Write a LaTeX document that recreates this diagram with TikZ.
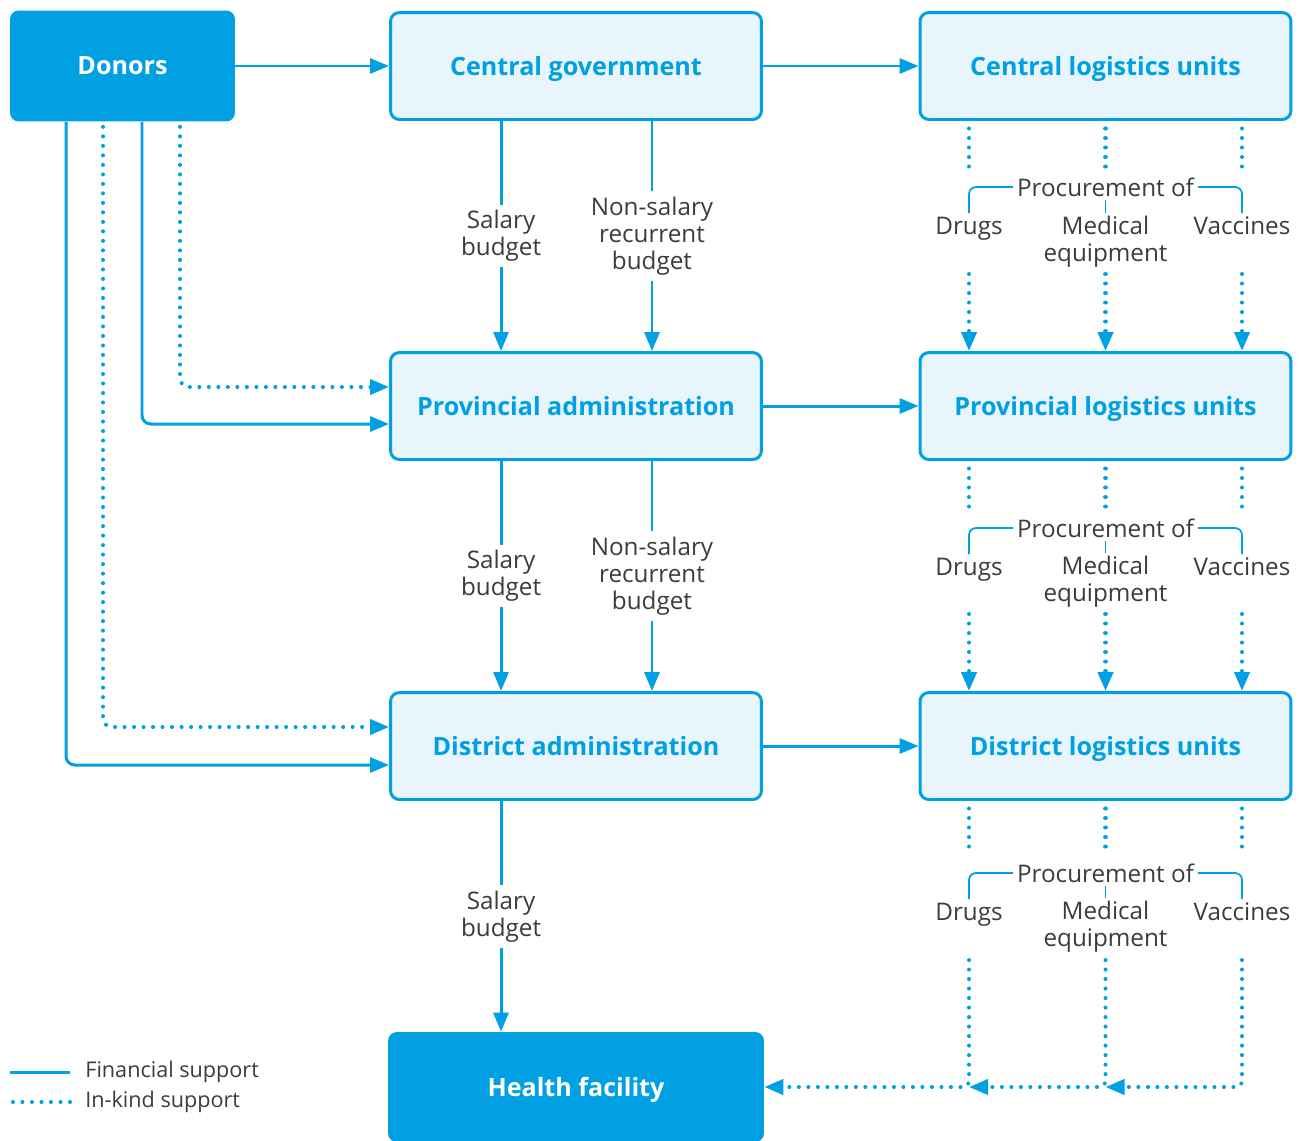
\documentclass[tikz,border=0pt]{standalone}
\usepackage{fontspec}
\setmainfont{Open Sans}
\usepackage{tikz}
\usetikzlibrary{arrows.meta,positioning,calc}
\definecolor{hsBlue}{HTML}{00A0E3}
\definecolor{hsLight}{HTML}{E8F5FD}
\definecolor{hsInk}{HTML}{3C3C3C}
\tikzset{
  % Light administration / logistics box
  lbox/.style={rectangle,rounded corners=5pt,
    minimum width=7.42cm,minimum height=2.14cm,
    align=center,draw=hsBlue,line width=1.7pt,fill=hsLight,text depth=0pt,
    font=\fontsize{14.3pt}{16pt}\selectfont\bfseries,text=hsBlue},
  % Solid blue box (donors, health facility)
  sbox/.style={rectangle,rounded corners=5pt,
    align=center,fill=hsBlue,text depth=0pt,
    font=\fontsize{14.3pt}{16pt}\selectfont\bfseries,text=white},
  % Lines
  fin/.style={line width=1.7pt,draw=hsBlue},
  kind/.style={line width=2.3pt,draw=hsBlue,line cap=round,
    dash pattern=on 0.01pt off 5.4pt},
  tip/.style={-{Triangle[length=0.38cm,width=0.3cm]}},
  brk/.style={line width=1pt,draw=hsBlue,rounded corners=4pt},
  % Texts
  lbl/.style={font=\fontsize{13.8pt}{15.3pt}\selectfont,text=hsInk,align=center},
  plbl/.style={lbl,inner sep=2pt},
  leg/.style={font=\fontsize{12.3pt}{14pt}\selectfont,text=hsInk,inner sep=0pt,anchor=west},
}
\begin{document}
\begin{tikzpicture}[x=0.02cm,y=-0.02cm]
  \useasboundingbox (0,0) rectangle (1304,1140);

  % Boxes
  \node[sbox,minimum width=4.5cm,minimum height=2.22cm] (donors) at (122.5,66) {Donors};
  \node[lbox] (cg) at (576,66) {Central government};
  \node[lbox] (cl) at (1105.5,66) {Central logistics units};
  \node[lbox] (pa) at (576,406) {Provincial administration};
  \node[lbox] (pl) at (1105.5,406) {Provincial logistics units};
  \node[lbox] (da) at (576,746) {District administration};
  \node[lbox] (dl) at (1105.5,746) {District logistics units};
  \node[sbox,minimum width=7.52cm,minimum height=2.2cm] (hf) at (576,1087) {Health facility};

  % Horizontal flows
  \draw[fin,tip] (donors.east) -- (cg.west);
  \draw[fin,tip] (cg.east) -- (cl.west);
  \draw[fin,tip] (pa.east) -- (pl.west);
  \draw[fin,tip] (da.east) -- (dl.west);

  % Budgets down the administration
  \draw[fin,tip] ([xshift=-1.5cm]cg.south) -- ([xshift=-1.5cm]pa.north)
    node[lbl,midway,fill=white] {Salary\\budget};
  \draw[fin,tip] ([xshift=1.52cm]cg.south) -- ([xshift=1.52cm]pa.north)
    node[lbl,midway,fill=white] {Non-salary\\recurrent\\budget};
  \draw[fin,tip] ([xshift=-1.5cm]pa.south) -- ([xshift=-1.5cm]da.north)
    node[lbl,midway,fill=white] {Salary\\budget};
  \draw[fin,tip] ([xshift=1.52cm]pa.south) -- ([xshift=1.52cm]da.north)
    node[lbl,midway,fill=white] {Non-salary\\recurrent\\budget};
  \draw[fin,tip] ([xshift=-1.5cm]da.south) -- ([xshift=-1.5cm]hf.north)
    node[lbl,midway,fill=white] {Salary\\budget};

  % Donor support
  \draw[fin,tip,rounded corners=5pt] ([xshift=-1.13cm]donors.south) |- ([yshift=-0.38cm]da.west);
  \draw[kind,tip,rounded corners=5pt] ([xshift=-0.39cm,yshift=-0.1cm]donors.south) |- ([yshift=0.38cm]da.west);
  \draw[fin,tip,rounded corners=5pt] ([xshift=0.39cm]donors.south) |- ([yshift=-0.36cm]pa.west);
  \draw[kind,tip,rounded corners=5pt] ([xshift=1.15cm,yshift=-0.1cm]donors.south) |- ([yshift=0.38cm]pa.west);

  % Procurement, central level
  \node[plbl] (proc1) at (1105.5,187) {Procurement of};
  \node[plbl] (drug1) at (969,229) {Drugs};
  \node[plbl] (med1) at (1105.5,242) {Medical\\equipment};
  \node[plbl] (vac1) at (1242,226) {Vaccines};
  \coordinate (low1) at (1105.5,274);
  \draw[brk] (vac1.north) |- (proc1.east);
  \draw[brk] (drug1.north |- vac1.north) |- (proc1.west);
  \draw[brk] (proc1.south) -- (med1.north);
  \foreach \n in {drug1,med1,vac1} {
    \draw[kind] (\n |- cl.south) ++(0,-0.15cm) -- ++(0,-0.85cm);
    \draw[kind,tip] (\n |- low1) -- (\n |- pl.north);
  }

  % Procurement, provincial level
  \node[plbl] (proc2) at (1105.5,528) {Procurement of};
  \node[plbl] (drug2) at (969,570) {Drugs};
  \node[plbl] (med2) at (1105.5,582) {Medical\\equipment};
  \node[plbl] (vac2) at (1242,567) {Vaccines};
  \coordinate (low2) at (1105.5,614);
  \draw[brk] (vac2.north) |- (proc2.east);
  \draw[brk] (drug2.north |- vac2.north) |- (proc2.west);
  \draw[brk] (proc2.south) -- (med2.north);
  \foreach \n in {drug2,med2,vac2} {
    \draw[kind] (\n |- pl.south) ++(0,-0.15cm) -- ++(0,-0.85cm);
    \draw[kind,tip] (\n |- low2) -- (\n |- dl.north);
  }

  % Procurement, district level
  \node[plbl] (proc3) at (1105.5,873) {Procurement of};
  \node[plbl] (drug3) at (969,915) {Drugs};
  \node[plbl] (med3) at (1105.5,927) {Medical\\equipment};
  \node[plbl] (vac3) at (1242,912) {Vaccines};
  \coordinate (low3) at (1105.5,960);
  \draw[brk] (vac3.north) |- (proc3.east);
  \draw[brk] (drug3.north |- vac3.north) |- (proc3.west);
  \draw[brk] (proc3.south) -- (med3.north);
  \foreach \n in {drug3,med3,vac3} {
    \draw[kind] (\n |- dl.south) ++(0,-0.15cm) -- ++(0,-0.85cm);
  }
  \draw[kind,tip,rounded corners=3pt] (vac3 |- low3) |- (med3 |- hf.east);
  \draw[kind,tip,rounded corners=3pt] (med3 |- low3) |- (drug3 |- hf.east);
  \draw[kind,tip,rounded corners=3pt] (drug3 |- low3) |- (hf.east);

  % Legend
  \node[leg] (legfin) at (85,1072) {Financial support};
  \node[leg] (legkind) at (85,1102) {In-kind support};
  \draw[fin] ([xshift=-0.3cm]legfin.west) -- ++(-1.2cm,0);
  \draw[kind] ([xshift=-0.3cm]legkind.west) -- ++(-1.2cm,0);
\end{tikzpicture}
\end{document}
